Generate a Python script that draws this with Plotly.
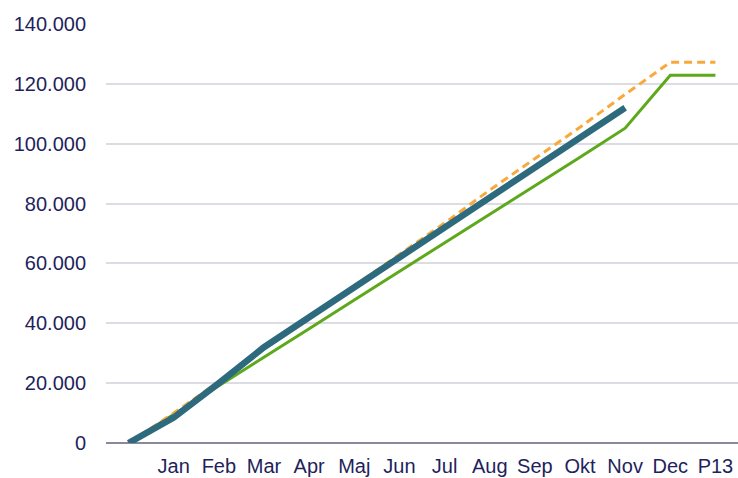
import plotly.graph_objects as go

months = ["", "Jan", "Feb", "Mar", "Apr", "Maj", "Jun", "Jul", "Aug", "Sep", "Okt", "Nov", "Dec", "P13"]
budget = [0, 9500, 19000, 28700, 38200, 47800, 57300, 66900, 76400, 86000, 95500, 105200, 122900, 122900]
forecast = [0, 10000, 20500, 31500, 42000, 52500, 62800, 73500, 84500, 95000, 105500, 116500, 127200, 127200]
actual = [0, 8500, 20000, 32000, 42000, 52000, 62000, 72000, 82000, 92000, 102000, 112000, None, None]

xpos = list(range(len(months)))
tick_color = "#231F5C"

fig = go.Figure()
fig.add_trace(go.Scatter(x=xpos, y=budget, mode="lines", name="Budget",
                         line=dict(color="#5DA81B", width=3)))
fig.add_trace(go.Scatter(x=xpos, y=forecast, mode="lines", name="Forecast",
                         line=dict(color="#F9A93B", width=3, dash="8px,5px")))
fig.add_trace(go.Scatter(x=xpos, y=actual, mode="lines", name="Faktisk",
                         line=dict(color="#2E6A7E", width=6.5)))

fig.update_layout(
    width=738, height=478,
    margin=dict(l=106, r=0, t=24, b=35),
    paper_bgcolor="white", plot_bgcolor="white",
    showlegend=False,
    separators=",.",
    font=dict(family="Liberation Sans, Arial, sans-serif", size=20, color=tick_color),
)
fig.update_xaxes(
    range=[-0.5, 13.5],
    tickmode="array", tickvals=xpos[1:], ticktext=months[1:],
    showgrid=False, zeroline=False,
    showline=False,
    ticks="", ticklabelstandoff=9,
    tickfont=dict(size=20, color=tick_color),
)
fig.update_yaxes(
    range=[0, 140000], tickmode="linear", tick0=0, dtick=20000,
    tickformat=",d",
    showgrid=True, gridcolor="#DCDCE4", gridwidth=1.5,
    zeroline=True, zerolinecolor="#8A889C", zerolinewidth=2,
    ticks="", ticklabelstandoff=19,
    tickfont=dict(size=20, color=tick_color),
)

fig.write_html("out.html", config={"displayModeBar": False},
               post_script="document.body.style.margin='0';document.body.style.overflow='hidden';")
